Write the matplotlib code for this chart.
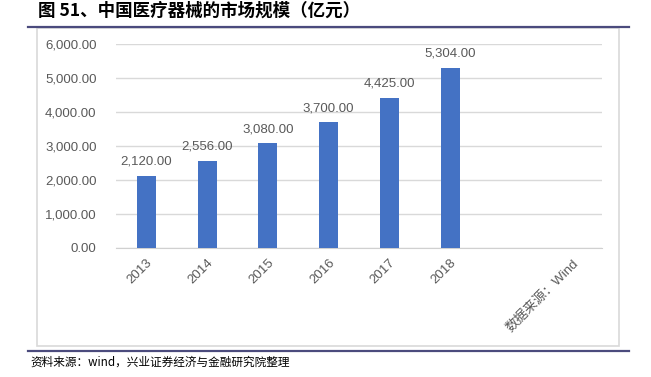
import matplotlib.pyplot as plt
from matplotlib.patches import Rectangle
from matplotlib.lines import Line2D

plt.rcParams['font.family'] = ['Liberation Sans', 'Noto Sans CJK SC', 'DejaVu Sans']

# data
years = ['2013', '2014', '2015', '2016', '2017', '2018', '', '数据来源：Wind']
values = [2120, 2556, 3080, 3700, 4425, 5304, None, None]
yticks = [0, 1000, 2000, 3000, 4000, 5000, 6000]

fig = plt.figure(figsize=(6.51, 3.77), dpi=100)
W, H = 651, 377

# outer frame of chart area
fig.patches.append(Rectangle((37 / W, 1 - 346 / H), (619 - 37) / W, (346 - 28) / H,
                             transform=fig.transFigure, fill=False,
                             edgecolor='#d9d9d9', linewidth=1.2))
# header and footer rules
for y in (27, 351):
    fig.lines.append(Line2D([28 / W, 629 / W], [1 - y / H, 1 - y / H],
                            transform=fig.transFigure, color='#4b4b7d', linewidth=1.6))

fig.text(38 / W, 1 - 11 / H, '图 51、中国医疗器械的市场规模（亿元）', fontsize=12.6,
         fontweight='bold', family=['Noto Sans CJK SC'], va='center', ha='left')
fig.text(30 / W, 1 - 362 / H, '资料来源：wind，兴业证券经济与金融研究院整理', fontsize=8.4,
         family=['Noto Sans CJK SC'], va='center', ha='left')

ax = fig.add_axes([116 / W, 1 - 248 / H, (602 - 116) / W, (248 - 44) / H])
xs = list(range(len(years)))
bx = [x for x, v in zip(xs, values) if v is not None]
bv = [v for v in values if v is not None]
ax.bar(bx, bv, width=0.31, color='#4472C4', zorder=3)
for x, v in zip(bx, bv):
    ax.text(x, v + 240, f'{v:,.2f}', ha='center', va='bottom', fontsize=9.5, color='#595959')

ax.set_xlim(-0.5, len(years) - 0.5)
ax.set_ylim(0, 6000)
ax.set_yticks(yticks)
ax.set_yticklabels([f'{t:,.2f}' for t in yticks])
ax.set_xticks(xs)
ax.set_xticklabels(years, rotation=45, ha='right', rotation_mode='anchor')
ax.tick_params(axis='both', length=0, labelsize=9.5, labelcolor='#595959')
ax.tick_params(axis='y', pad=14)
ax.tick_params(axis='x', pad=6)
ax.grid(axis='y', color='#d9d9d9', linewidth=1, zorder=0)
for s in ('top', 'right', 'left'):
    ax.spines[s].set_visible(False)
ax.spines['bottom'].set_color('#d0d0d0')

plt.savefig('out.png', dpi=100)
